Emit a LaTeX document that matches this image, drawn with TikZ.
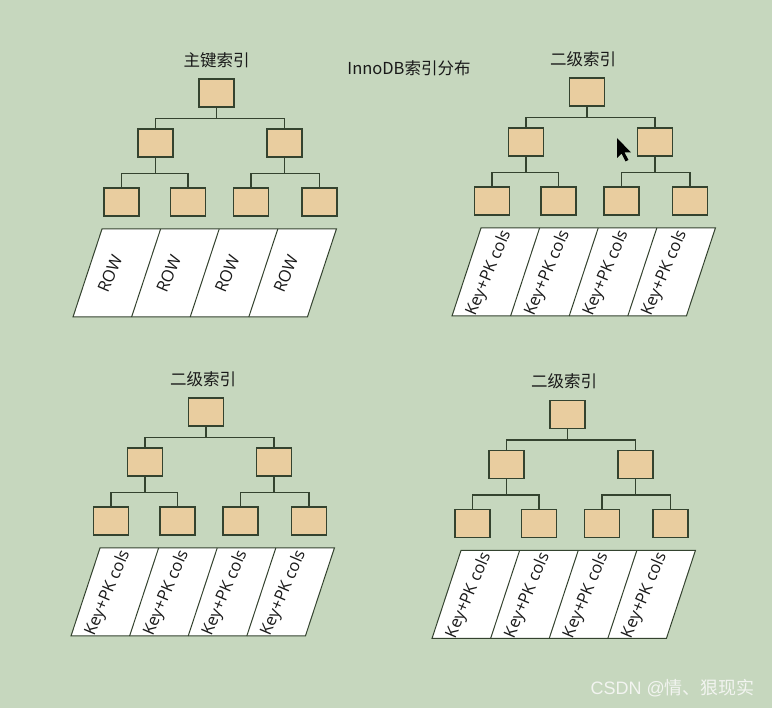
\documentclass[tikz,border=0pt]{standalone}
\usepackage{fontspec}
\setmainfont{Open Sans}
\newfontfamily\cjk{Noto Sans CJK SC}
\newfontfamily\wmlat{Liberation Sans}
\definecolor{bgc}{HTML}{C6D7BE}
\definecolor{boxc}{HTML}{E9CD9F}
\definecolor{edgec}{HTML}{34432F}
\definecolor{wmc}{HTML}{F2F4F0}
\tikzset{
  bx/.style={draw=edgec, line width=1.4pt, fill=boxc, minimum width=35pt, minimum height=28pt, inner sep=0pt},
  ln/.style={draw=edgec, line width=1.5pt},
  pl/.style={draw=edgec, line width=1pt},
  ttl/.style={font=\cjk\fontsize{16.5}{18}\selectfont, text=black!90, inner sep=0pt},
  lbl/.style={font=\fontsize{16.5}{18}\selectfont, text=black!90, rotate=67, inner sep=0pt},
}
\newcommand{\btree}[7]{%
  % #1 prefix, #2 root x, #3 root y, #4 title, #5 table top-left x, #6 cell text, #7 title dx
  \node[ttl] (#1t) at ({#2+#7},{#3-33}) {#4};
  \node[bx] (#1r) at (#2,#3) {};
  \node[bx] (#1a) at ({#2-61},{#3+50}) {};
  \node[bx] (#1b) at ({#2+68},{#3+50}) {};
  \node[bx] (#1a1) at ({#2-95},{#3+109}) {};
  \node[bx] (#1a2) at ({#2-28.5},{#3+109}) {};
  \node[bx] (#1b1) at ({#2+34.5},{#3+109}) {};
  \node[bx] (#1b2) at ({#2+103},{#3+109}) {};
  \draw[ln] (#1r.south) -- ++(0,11) -| (#1a.north);
  \draw[ln] (#1r.south) -- ++(0,11) -| (#1b.north);
  \draw[ln] (#1a.south) -- ++(0,16) -| (#1a1.north);
  \draw[ln] (#1a.south) -- ++(0,16) -| (#1a2.north);
  \draw[ln] (#1b.south) -- ++(0,16) -| (#1b1.north);
  \draw[ln] (#1b.south) -- ++(0,16) -| (#1b2.north);
  \foreach \i in {0,...,4}{%
    \coordinate (#1u\i) at ({#5+58.6*\i},{#3+136});
    \coordinate (#1d\i) at ({#5-29+58.6*\i},{#3+224});
  }
  \fill[white] (#1u0) -- (#1u4) -- (#1d4) -- (#1d0) -- cycle;
  \draw[pl] (#1u0) -- (#1u4) -- (#1d4) -- (#1d0) -- cycle;
  \foreach \i in {1,2,3}{\draw[pl] (#1u\i) -- (#1d\i);}
  \foreach \i in {0,...,3}{%
    \node[lbl] (#1c\i) at ({#5+8+58.6*\i},{#3+181}) {#6};
  }
}
\begin{document}
\begin{tikzpicture}[x=1pt,y=-1pt]
\fill[bgc] (0,0) rectangle (772,708);
\useasboundingbox (0,0) rectangle (772,708);
\node[ttl] (main) at (409,68) {InnoDB索引分布};
\btree{p}{216.5}{93}{主键索引}{102}{ROW}{0}
\btree{s}{587}{92}{二级索引}{481}{Key+PK cols}{-4}
\btree{m}{206}{412}{二级索引}{100}{Key+PK cols}{-3}
\btree{n}{567.5}{414.5}{二级索引}{461}{Key+PK cols}{-3.5}
% mouse cursor
\fill[black] (617,138) -- (617,158) -- (621.5,153.5) -- (625.5,161.5) -- (628.5,160) -- (624.5,152.5) -- (631,152.5) -- cycle;
\node[font=\cjk\fontsize{18}{20}\selectfont, text=wmc, anchor=east, inner sep=0pt] (wm) at (755,688) {{\wmlat CSDN @}情、狠现实};
\end{tikzpicture}
\end{document}
